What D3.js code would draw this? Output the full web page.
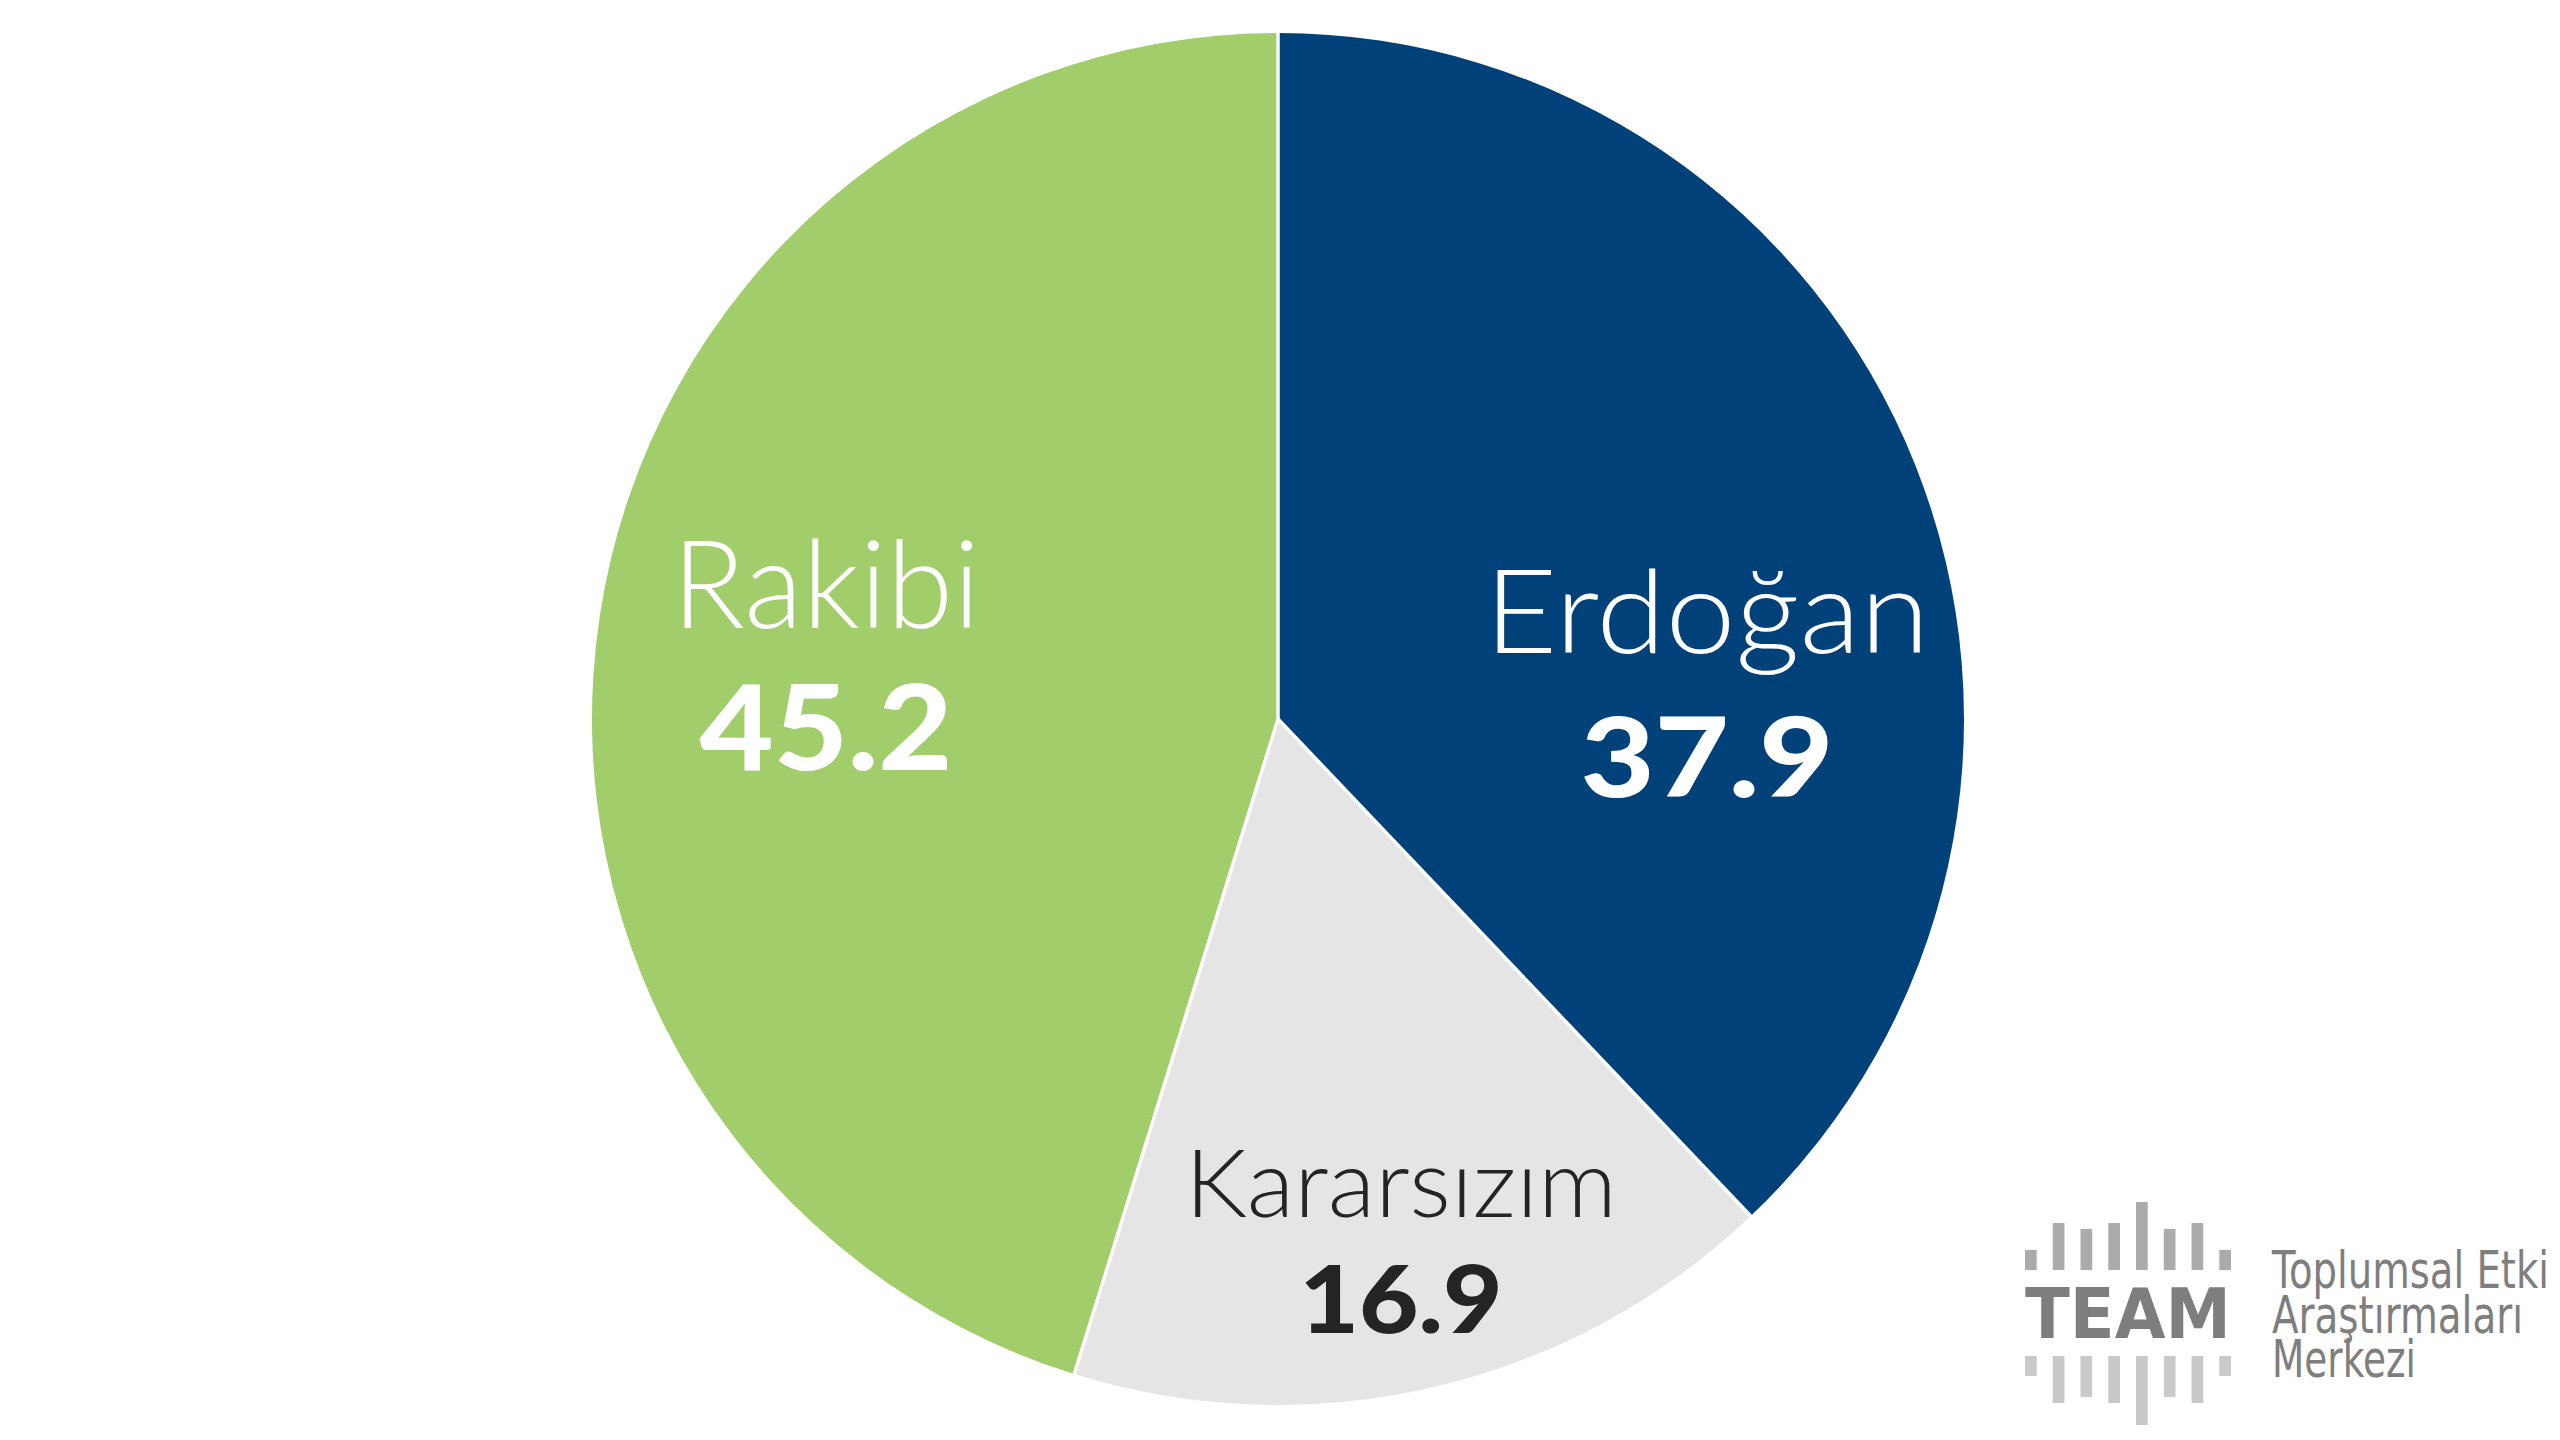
<!DOCTYPE html>
<html>
<head>
<meta charset="utf-8">
<script src="https://cdn.jsdelivr.net/npm/d3@7"></script>
<style>
  html, body { margin: 0; padding: 0; background: #fff; }
  svg { display: block; }
</style>
</head>
<body>
<svg id="chart" width="2560" height="1440"></svg>
<script>
// ---- data ----
const categories = ["Erdoğan", "Kararsızım", "Rakibi"];
const values = [37.9, 16.9, 45.2];
const valueLabels = ["37.9", "16.9", "45.2"];
const sliceColors = ["#00417A", "#E5E5E5", "#A1CD6B"];
const labelColors = ["#FFFFFF", "#242424", "#FFFFFF"];

// logo decoration (bar heights in px)
const logoTopBars = [20, 47, 41, 47, 68, 41, 47, 20];
const logoBottomBars = [20, 47, 41, 47, 69, 41, 47, 20];
const logoLines = ["Toplumsal Etki", "Araştırmaları", "Merkezi"];

// ---- layout ----
const W = 2560, H = 1440;
const cx = 1278, cy = 719, R = 686;

const svg = d3.select("#chart");
const g = svg.append("g").attr("transform", `translate(${cx},${cy})`);

const pie = d3.pie().sort(null).value(d => d.value).startAngle(0).endAngle(2 * Math.PI);
const arc = d3.arc().innerRadius(0).outerRadius(R);
const data = categories.map((c, i) => ({ name: c, value: values[i], label: valueLabels[i], color: sliceColors[i], text: labelColors[i] }));
const arcs = pie(data);

g.selectAll("path.slice").data(arcs).join("path")
  .attr("class", "slice")
  .attr("d", arc)
  .attr("fill", d => d.data.color);

// white separators
g.selectAll("line.sep").data(arcs).join("line")
  .attr("class", "sep")
  .attr("x1", 0).attr("y1", 0)
  .attr("x2", d => Math.sin(d.startAngle) * (R + 2))
  .attr("y2", d => -Math.cos(d.startAngle) * (R + 2))
  .attr("stroke", "#fff").attr("stroke-width", 3.5);

// label placement (layout offsets from pie center)
const labelLayout = {
  "Erdoğan":    { dx: 429, nameY: -66, numY: 78, nameSize: 116, numSize: 111, nameW: 445, numW: 253 },
  "Kararsızım": { dx: 123, nameY: 498, numY: 614, nameSize: 95, numSize: 94, nameW: 432, numW: 203 },
  "Rakibi":     { dx: -452, nameY: -91, numY: 51, nameSize: 122, numSize: 118, nameW: 308, numW: 253 }
};

const lg = g.selectAll("g.lab").data(arcs).join("g").attr("class", "lab");
lg.append("text")
  .attr("x", d => labelLayout[d.data.name].dx)
  .attr("y", d => labelLayout[d.data.name].nameY)
  .attr("text-anchor", "middle")
  .attr("font-family", "Lato, 'Open Sans', sans-serif")
  .attr("font-weight", 300)
  .attr("font-size", d => labelLayout[d.data.name].nameSize)
  .attr("textLength", d => labelLayout[d.data.name].nameW)
  .attr("lengthAdjust", "spacingAndGlyphs")
  .attr("fill", d => d.data.text)
  .text(d => d.data.name);
lg.append("text")
  .attr("x", d => labelLayout[d.data.name].dx)
  .attr("y", d => labelLayout[d.data.name].numY)
  .attr("text-anchor", "middle")
  .attr("font-family", "Lato, 'Open Sans', sans-serif")
  .attr("font-weight", 900)
  .attr("font-size", d => labelLayout[d.data.name].numSize)
  .attr("textLength", d => labelLayout[d.data.name].numW)
  .attr("lengthAdjust", "spacingAndGlyphs")
  .attr("fill", d => d.data.text)
  .text(d => d.data.label);

// ---- TEAM logo ----
const logo = svg.append("g").attr("transform", "translate(2025,1270)");
const bx = d3.scaleLinear().domain([0, 7]).range([0, 194.3]);
logo.selectAll("rect.top").data(logoTopBars).join("rect")
  .attr("x", (d, i) => bx(i)).attr("y", d => -d)
  .attr("width", 11.7).attr("height", d => d)
  .attr("fill", "#ABABAB");
logo.selectAll("rect.bot").data(logoBottomBars).join("rect")
  .attr("x", (d, i) => bx(i)).attr("y", 86)
  .attr("width", 11.7).attr("height", d => d)
  .attr("fill", "#C9C9C9");
logo.append("text")
  .attr("x", 0).attr("y", 68)
  .attr("font-family", "'DejaVu Sans', sans-serif")
  .attr("font-weight", 700)
  .attr("font-size", 70)
  .attr("textLength", 206).attr("lengthAdjust", "spacingAndGlyphs")
  .attr("fill", "#7E7E7E")
  .text("TEAM");
const lineLens = [277, 251, 144];
logo.selectAll("text.sub").data(logoLines).join("text")
  .attr("class", "sub")
  .attr("x", 247)
  .attr("y", (d, i) => 18 + i * 44.5)
  .attr("font-family", "'DejaVu Sans', sans-serif")
  .attr("font-size", 52)
  .attr("textLength", (d, i) => lineLens[i]).attr("lengthAdjust", "spacingAndGlyphs")
  .attr("fill", "#7E7E7E")
  .text(d => d);
</script>
</body>
</html>
